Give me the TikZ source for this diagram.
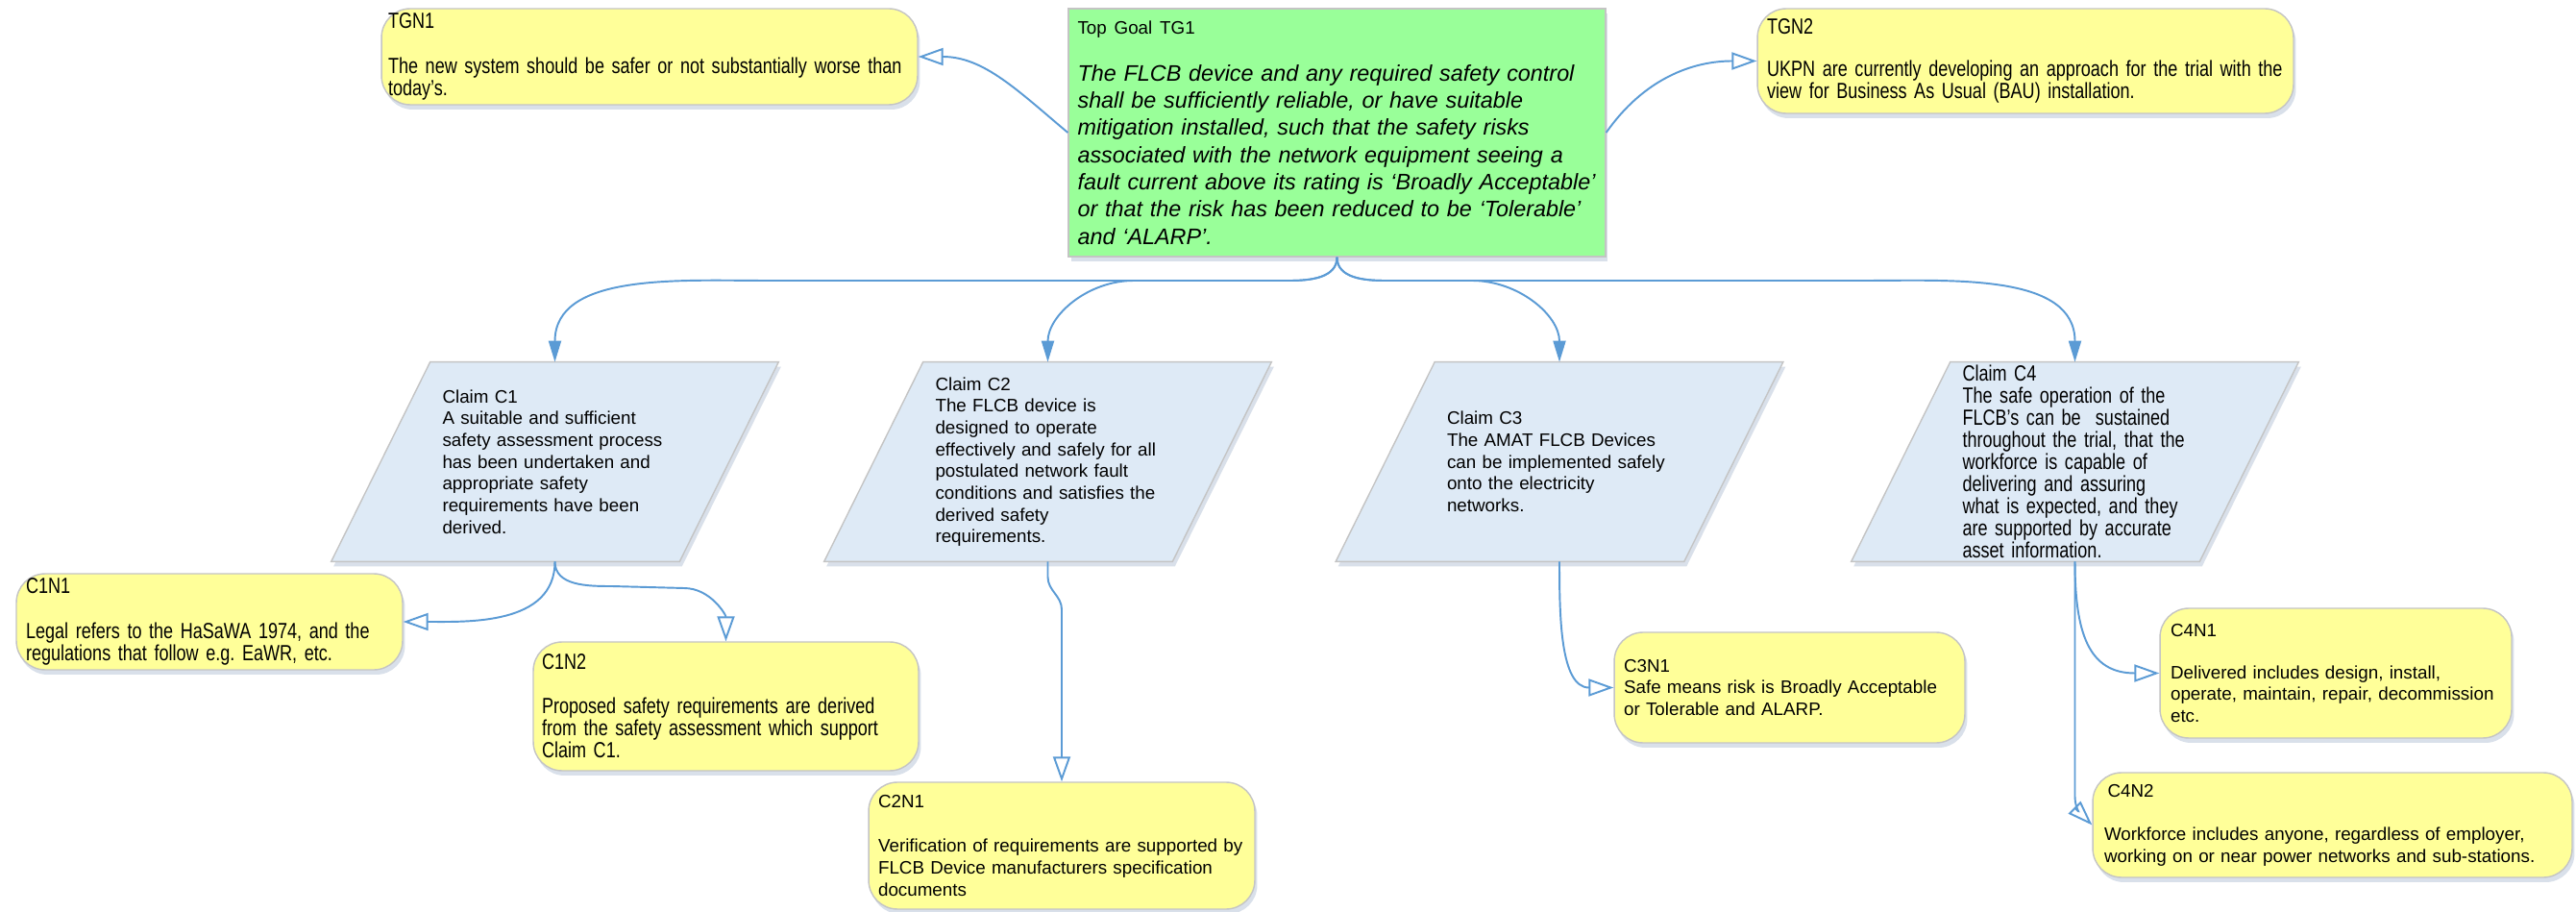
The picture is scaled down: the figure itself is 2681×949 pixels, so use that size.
\documentclass[tikz,border=0pt]{standalone}
\usepackage{fontspec}
\setmainfont{Liberation Sans}
\newfontfamily\narrowfont[FakeStretch=0.79]{Liberation Sans}
\usetikzlibrary{arrows.meta,shadows,backgrounds}
\definecolor{notefill}{HTML}{FFFF99}
\definecolor{goalfill}{HTML}{99FF99}
\definecolor{claimfill}{HTML}{DEEAF6}
\definecolor{edgegray}{HTML}{C4C4C4}
\definecolor{linkblue}{HTML}{5B9BD5}
\definecolor{shadowblue}{HTML}{B4C3D7}
\tikzset{
    softshadow/.style={drop shadow={shadow xshift=0.05cm, shadow yshift=-0.1cm, fill=shadowblue, opacity=0.5}},
    notebox/.style={draw=edgegray, line width=0.8pt, fill=notefill, rounded corners=0.6cm, align=left, inner sep=0pt, softshadow},
    narrow/.style={font=\narrowfont\fontsize{13}{13.1}\selectfont},
    normaltext/.style={font=\fontsize{10.7}{12.9}\selectfont},
    claimbox/.style={align=left, inner sep=0pt, minimum width=9.3cm, minimum height=4.14cm, text width=4.68cm},
    claimshape/.style={draw=edgegray, line width=0.8pt, fill=claimfill, softshadow},
    goalbox/.style={draw=edgegray, line width=0.8pt, fill=goalfill, align=left, inner sep=0pt, softshadow},
    link/.style={draw=linkblue, line width=1.1pt},
    tolink/.style={link, -{Triangle[length=0.44cm, width=0.26cm]}},
    tonote/.style={link, -{Triangle[open, length=0.52cm, width=0.36cm]}}
}
\begin{document}
\begin{tikzpicture}[x=0.02cm, y=0.02cm]
    \useasboundingbox (0,0) rectangle (2681,-949);

    \node[goalbox, minimum width=11.18cm, minimum height=5.16cm, text width=10.8cm,
        font=\itshape\fontsize{13.3}{16.1}\selectfont] (tg) at (1391.5,-138)
        {{\upshape\fontsize{10.7}{12.9}\selectfont Top Goal TG1}\\[11.8pt]%
        The FLCB device and any required safety control\\
        shall be sufficiently reliable, or have suitable\\
        mitigation installed, such that the safety risks\\
        associated with the network equipment seeing a\\
        fault current above its rating is ‘Broadly Acceptable’\\
        or that the risk has been reduced to be ‘Tolerable’\\
        and ‘ALARP’.};
    \node[notebox, narrow, minimum width=11.16cm, minimum height=2cm, text width=10.88cm] (tgn1) at (676,-59)
        {TGN1\\[14pt]The new system should be safer or not substantially worse than\\today’s.};
    \node[notebox, narrow, minimum width=11.16cm, minimum height=2.18cm, text width=10.76cm] (tgn2) at (2108,-63.5)
        {TGN2\\[12pt]UKPN are currently developing an approach for the trial with the\\view for Business As Usual (BAU) installation.};

    \node[claimbox, normaltext] (c1) at (577.5,-480.5)
        {Claim C1\\A suitable and sufficient\\safety assessment process\\has been undertaken and\\appropriate safety\\requirements have been\\derived.};
    \node[claimbox, normaltext] (c2) at (1090.5,-480.5)
        {Claim C2\\The FLCB device is\\designed to operate\\effectively and safely for all\\postulated network fault\\conditions and satisfies the\\derived safety\\requirements.};
    \node[claimbox, normaltext] (c3) at (1623,-480.5)
        {Claim C3\\The AMAT FLCB Devices\\can be implemented safely\\onto the electricity\\networks.};
    \node[claimbox, narrow] (c4) at (2159.5,-480.5)
        {Claim C4\\The safe operation of the\\FLCB’s can be \ sustained\\throughout the trial, that the\\workforce is capable of\\delivering and assuring\\what is expected, and they\\are supported by accurate\\asset information.};
    \begin{scope}[on background layer]
        \fill[white] (0,0) rectangle (2681,-949);
        \foreach \c in {c1,c2,c3,c4}
        {
            \draw[claimshape] ([xshift=2.06cm]\c.north west) -- (\c.north east) -- ([xshift=-2.06cm]\c.south east) -- (\c.south west) -- cycle;
        }
    \end{scope}

    \node[notebox, narrow, minimum width=8.04cm, minimum height=2cm, text width=7.64cm] (c1n1) at (218,-647)
        {C1N1\\[13.6pt]Legal refers to the HaSaWA 1974, and the\\regulations that follow e.g.\ EaWR, etc.};
    \node[notebox, narrow, minimum width=8.02cm, minimum height=2.68cm, text width=7.66cm] (c1n2) at (755.5,-735)
        {C1N2\\[13.1pt]Proposed safety requirements are derived\\from the safety assessment which support\\Claim C1.};
    \node[notebox, normaltext, minimum width=8.04cm, minimum height=2.64cm, text width=7.64cm] (c2n1) at (1105,-880)
        {C2N1\\[13.3pt]Verification of requirements are supported by\\FLCB Device manufacturers specification\\documents};
    \node[notebox, normaltext, minimum width=7.3cm, minimum height=2.3cm, text width=6.9cm] (c3n1) at (1862.5,-715.5)
        {C3N1\\Safe means risk is Broadly Acceptable\\or Tolerable and ALARP.};
    \node[notebox, normaltext, minimum width=7.32cm, minimum height=2.7cm, text width=6.88cm] (c4n1) at (2431,-700.5)
        {C4N1\\[12pt]Delivered includes design, install,\\operate, maintain, repair, decommission\\etc.};
    \node[notebox, normaltext, minimum width=9.98cm, minimum height=2.18cm, text width=9.5cm] (c4n2) at (2427.5,-858.5)
        {\hspace{2pt}C4N2\\[13pt]Workforce includes anyone, regardless of employer,\\working on or near power networks and sub-stations.};

    \coordinate (busL) at (1342,-292);
    \coordinate (busR) at (1442,-292);
    \draw[tolink] (tg.south) to[out=-90,in=0] (busL) -- (800,-292) to[out=180,in=90] (c1.north);
    \draw[tolink] (tg.south) to[out=-90,in=0] (busL) -- (1180,-292) to[out=180,in=90] (c2.north);
    \draw[tolink] (tg.south) to[out=-90,in=180] (busR) -- (1532,-292) to[out=0,in=90] (c3.north);
    \draw[tolink] (tg.south) to[out=-90,in=180] (busR) -- (1939,-292) to[out=0,in=90] (c4.north);

    \draw[tonote] (tg.west) to[out=140,in=0] (tgn1.east);
    \draw[tonote] (tg.east) to[out=55,in=180] (tgn2.west);
    \draw[tonote] (c1.south) to[out=-90,in=0] (c1n1.east);
    \draw[tonote] (c1.south) to[out=-90,in=180] (637,-610) -- (712,-612) to[out=0,in=90] (c1n2.north);
    \draw[tonote] (c2.south) -- ++(0,-16) to[out=-90,in=90] ++(14.5,-34) -- (c2n1.north);
    \draw[tonote] (c3.south) to[out=-90,in=180] (c3n1.west);
    \draw[tonote] (c4.south) to[out=-90,in=180,looseness=1.3] (c4n1.west);
    \draw[tonote] (c4.south) -- ++(0,-245) to[out=-90,in=135] (c4n2.west);
\end{tikzpicture}
\end{document}
